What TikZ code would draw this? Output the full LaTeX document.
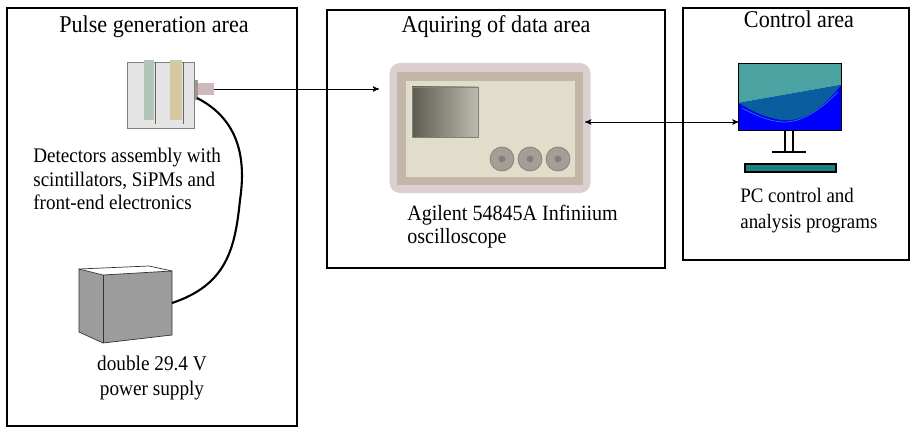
\documentclass[tikz,border=0pt]{standalone}
\usepackage{fontspec}
\setmainfont{Liberation Serif}[FakeStretch=0.92]
\usetikzlibrary{arrows}

\definecolor{detgray}{HTML}{E4E4E4}
\definecolor{stripgreen}{HTML}{B3C4B8}
\definecolor{stripyellow}{HTML}{D3CAA2}
\definecolor{plug}{HTML}{CDB9B9}
\definecolor{scopeouter}{HTML}{DCCFCF}
\definecolor{scopeframe}{HTML}{C3B5A8}
\definecolor{scopepanel}{HTML}{E1DDCB}
\definecolor{knobgray}{HTML}{A39F97}
\definecolor{screendark}{HTML}{5E5C50}
\definecolor{screenlight}{HTML}{BDBBAE}
\definecolor{teal}{HTML}{4AA3A0}
\definecolor{deepteal}{HTML}{0A5EA0}
\definecolor{kbteal}{HTML}{1A8080}

\begin{document}
\begin{tikzpicture}[x=0.02cm,y=-0.02cm,>=stealth',
  area/.style={draw,thick},
  title/.style={font=\fontsize{13.7}{15}\selectfont},
  label/.style={font=\fontsize{11.8}{13.3}\selectfont,align=left,inner sep=0pt},
  knob/.style={fill=knobgray,draw=knobgray!80!black,thin}]

  \useasboundingbox (0,0) rectangle (911,432);

  % the three areas
  \draw[area] (7,8) rectangle (297,426);
  \draw[area] (327,10) rectangle (665,268);
  \draw[area,line width=1.2pt] (683,8) rectangle (909,260);
  \node[title] (pulse) at (154,27) {Pulse generation area};
  \node[title] (aquire) at (496,27) {Aquiring of data area};
  \node[title] (control) at (799,19) {Control area};

  % detectors assembly
  \node[draw=gray,fill=detgray,minimum width=67*0.02cm,minimum height=66*0.02cm,inner sep=0pt] (det) at (161,95) {};
  \fill[stripgreen] (144,60) rectangle (154,120);
  \draw[gray!80!black] (155,62) -- (155,124);
  \fill[stripyellow] (170,60) rectangle (182,120);
  \draw[gray!80!black] (183,62) -- (183,124);
  \fill[plug!80!black] (195,80) rectangle (198,100);
  \node[fill=plug,minimum width=16*0.02cm,minimum height=12*0.02cm,inner sep=0pt] (plug) at (206,89) {};
  \node[label,anchor=north west] (dettext) at (33,148)
    {Detectors assembly with\\scintillators, SiPMs and\\front-end electronics};

  % power supply
  \coordinate (psu) at (172,303);
  \filldraw[fill=gray!78,draw=gray!40!black] (79,269) -- (103,275) -- (172,271) -- (172,335) -- (103,343) -- (79,332) -- cycle;
  \draw[gray!40!black] (103,275) -- (103,343);
  \draw[gray!40!black] (79,269) -- (149,266) -- (172,271);
  \node[label,font=\fontsize{11.9}{13.8}\selectfont,align=center,anchor=north] (psutext) at (152,356) {double 29.4 V\\power supply};

  \draw[line width=1.2pt] (197,98) .. controls (240,120) and (246,160) .. (240,200)
    .. controls (235,250) and (226,285) .. (psu);

  % oscilloscope
  \node[fill=scopeouter,rounded corners=6,minimum width=201*0.02cm,minimum height=130*0.02cm] (scope) at (490,128) {};
  \fill[scopeframe] (397,72) rectangle (583,185);
  \fill[scopepanel] (406,81) rectangle (575,177);
  \shade[shading angle=45,left color=screendark,right color=screenlight] (412,87) rectangle (478,137);
  \draw[gray] (412,87) rectangle (478,137);
  \foreach \x in {502,530,558} {
    \filldraw[knob] (\x,159) circle (12);
    \filldraw[knob,fill=knobgray!80!black] (\x,159) circle (3);
  }
  \node[label,font=\fontsize{12.4}{13}\selectfont,anchor=north west] (scopetext) at (407,205)
    {Agilent 54845A Infiniium\\oscilloscope};

  % pc
  \node[minimum width=102*0.02cm,minimum height=66*0.02cm,inner sep=0pt] (pc) at (790,97) {};
  \fill[blue] (pc.north west) rectangle (pc.south east);
  \fill[teal] (739,64) -- (841,64) -- (841,85) -- (739,103) -- cycle;
  \fill[deepteal] (739,103) -- (841,85) .. controls (820,112) and (800,122) .. (782,120) .. controls (765,118) and (750,110) .. (739,103);
  \draw[teal!70!blue,thin] (742,108) .. controls (755,115) and (768,121) .. (782,122) .. controls (800,123) and (818,112) .. (838,92);
  \draw[thick] (pc.north west) rectangle (pc.south east);
  \draw[thick] (785,130) -- (785,152) (793,130) -- (793,152);
  \draw[line width=1.5pt] (772,152) -- (806,152);
  \filldraw[fill=kbteal,draw=black,line width=1.5pt] (745,164) rectangle (836,172);
  \node[label,font=\fontsize{11.7}{14.5}\selectfont,anchor=north west] (pctext) at (740,188)
    {PC control and\\analysis programs};

  % signal paths
  \draw[->] (plug.east) -- ([xshift=-10*0.02cm]scope.west |- plug.east);
  \draw[<->] (585,122) -- (pc.west |- 0,122);
\end{tikzpicture}
\end{document}
